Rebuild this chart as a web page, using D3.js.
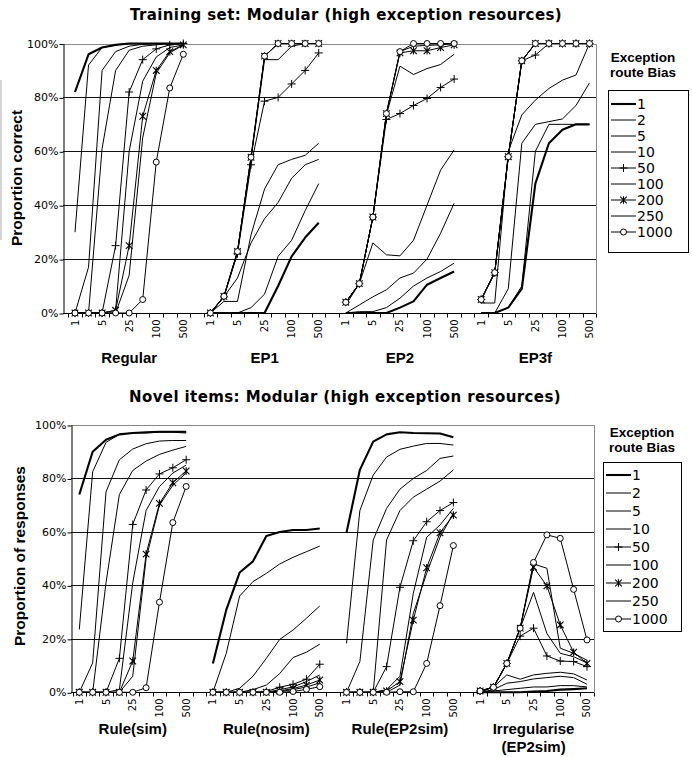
<!DOCTYPE html>
<html><head><meta charset="utf-8">
<script src="https://cdn.jsdelivr.net/npm/d3@7"></script>
<style>body{margin:0;background:#fff;} svg{display:block;}</style>
</head><body>
<svg id="c" width="692" height="757"></svg>
<script>
// ---------------- DATA ----------------
const xLabels = ["1","2","5","10","25","50","100","250","500"];
const xShown = ["1","5","25","100","500"];
const biasLevels = ["1","2","5","10","50","100","200","250","1000"];
const yTicks = [0,20,40,60,80,100];
const trainGroups = ["Regular","EP1","EP2","EP3f"];
const novelGroups = ["Rule(sim)","Rule(nosim)","Rule(EP2sim)","Irregularise\n(EP2sim)"];

// rows follow biasLevels, columns follow xLabels (values in %)
const trainRegular = [
  [82,96,98.5,99.5,100,100,100,100,100],
  [30,92,98.5,99.5,100,100,100,100,100],
  [0,17,90,97,99,99.7,100,100,100],
  [0,0,61,90,97.5,99,99.5,100,100],
  [0,0,0,25,82,94,98,99.5,100],
  [0,0,0,1,60,86,95,98.5,99.5],
  [0,0,0,1,25,73,90,97,99.5],
  [0,0,0,0,14,65,89,96.5,99.5],
  [0,0,0,0,0,5,56,83.5,96]
];
const trainEP1 = [
  [0,0,0,0,0,10,21,28,33.5],
  [0,0,0,2,7,21,27,38,48],
  [0,6,13,26,35,41,50,55,57],
  [0,4.3,4.3,29,46,55,57,58.5,63],
  [0,6,22,55,78.6,80,85,90,96.5],
  [0,6,22.5,57,94,94,99,100,100],
  [0,6.2,22.8,57.8,95.3,100,100,100,100],
  [0,6.2,22.8,57.8,95.3,100,100,100,100],
  [0,6.2,22.8,57.8,95.3,100,100,100,100]
];
const trainEP2 = [
  [0,0,0,0,2,4.3,10.5,13,15.4],
  [0,0.5,0.5,2,5.5,10,13,15.4,18.5],
  [0,3,6,8.6,13,14.8,20,29.6,40.7],
  [3,10.9,26,21.6,21.2,27,40,53,60.5],
  [4,10.9,35.6,71.8,74,77,79.6,83.7,86.8],
  [4,10.9,35.6,73.5,91.6,88.5,90.7,92.2,96],
  [4,10.9,35.6,74,96.5,97.3,97.3,98.5,99.5],
  [4,10.9,35.6,74,97,99,99.3,99.5,100],
  [4,10.9,35.6,74,97,100,100,100,100]
];
const trainEP3f = [
  [0,0,2,9,48,63,68,70,70],
  [0,0,2,10,60,70,70,70,70],
  [0,0,9,63,70,71,72,77,85.4],
  [3.7,3.7,60,73.5,79,83.3,86.4,88.3,100],
  [5,15,58,93.6,95.7,100,100,100,100],
  [5,15,58,93.6,100,100,100,100,100],
  [5,15,58,93.6,100,100,100,100,100],
  [5,15,58,93.6,100,100,100,100,100],
  [5,15,58,93.6,100,100,100,100,100]
];
const novelRuleSim = [
  [74,90,94.5,96.5,97,97.3,97.5,97.5,97.5],
  [23.5,82.5,93.5,96.5,97,97,97.3,97.3,97],
  [0,11,75,87,91,93,94,94.2,94.2],
  [0,0,41,74,83,86.5,89,90.6,92],
  [0,0,0,12.7,62.8,75.7,81.7,84,87],
  [0,0,0,1,41,68,77,82,85],
  [0,0,0,0,11.7,51.7,70.7,78.4,82.8],
  [0,0,0,0,6,50,70,77.5,82],
  [0,0,0,0,0,1.7,33.7,63.5,77]
];
const novelRuleNosim = [
  [10.8,30.8,44.8,49,58.5,60,60.7,60.7,61.3],
  [0,14.6,36,41.4,44.5,48,50.5,52.6,54.7],
  [0,0,1.5,6,12.7,19.8,23.3,27.7,32.3],
  [0,0,0,1,2.7,7,13,15,18],
  [0,0,0,0,0.3,1.9,3,4.9,10.5],
  [0,0,0,0,0,1,2,4,6.5],
  [0,0,0,0,0,0.5,1.4,2.7,4.6],
  [0,0,0,0,0,0.3,1,2,3.5],
  [0,0,0,0,0,0,0.3,1.1,2.1]
];
const novelRuleEP2sim = [
  [59.7,83.2,93.8,96.5,97.3,97,96.9,96.8,95.4],
  [18.3,68,81.3,88,90.9,92.1,93.1,93.1,92.5],
  [0,11.5,57,68.8,76,80,83,87.5,88.4],
  [0,0,0,57,68,73,76,79,83.2],
  [0,0,0,9.6,39.3,56.7,63.8,68,71],
  [0,0,0,1,6,37,58,62.6,68.8],
  [0,0,0,0.5,4,27,46.6,59.7,66.3],
  [0,0,0,0,2.7,29.5,44.5,58,67],
  [0,0,0,0,0.2,0.2,10.8,32.4,54.9]
];
const novelIrregularise = [
  [0,0,0,0,0.3,0.5,1,1.2,1.5],
  [0,0.5,1,1.5,2,2,2.5,2.5,2],
  [0,1,3.4,4,5,5.5,6,5.5,3],
  [0,2,6.5,4.9,6.5,7.1,7.5,6.9,4.6],
  [0.5,1.9,10.8,21,24,13.6,11.7,11.5,9.6],
  [0.5,1.9,10.8,24,37.4,22,14.6,13.3,11],
  [0.5,1.9,10.8,24,46.8,39.8,25.2,15,10.8],
  [0.5,1.9,10.8,24,48,46.4,16.5,14.6,12],
  [0.5,1.9,10.8,24,48.6,58.9,57.6,38.5,19.6]
];

// ---------------- STYLE ----------------
const markerOf = {"50":"plus","200":"star","1000":"circle"};
const widthOf = b => b==="1" ? 2.1 : 1;
const TICK_FONT = "'DejaVu Sans', Verdana, sans-serif";
const BOLD_FONT = "'Liberation Sans', Arial, sans-serif";

const svg = d3.select("#c");
// faint artefact line at left edge
svg.append("line").attr("x1",1).attr("x2",1).attr("y1",80).attr("y2",240).attr("stroke","#aaa");

function drawMarker(g, type, cx, cy){
  if(type==="plus"){
    g.append("path").attr("d",`M${cx-4},${cy}H${cx+4}M${cx},${cy-4}V${cy+4}`).attr("stroke","#000").attr("stroke-width",1).attr("fill","none");
  } else if(type==="star"){
    g.append("path").attr("d",`M${cx-3.3},${cy-3.3}L${cx+3.3},${cy+3.3}M${cx-3.3},${cy+3.3}L${cx+3.3},${cy-3.3}M${cx},${cy-3.8}V${cy+3.8}`).attr("stroke","#000").attr("stroke-width",1.1).attr("fill","none");
  } else if(type==="circle"){
    g.append("circle").attr("cx",cx).attr("cy",cy).attr("r",3).attr("fill","#fff").attr("stroke","#000").attr("stroke-width",1);
  }
}

function panel(cfg){
  const g = svg.append("g");
  const slots = d3.range(39);
  const x = d3.scaleBand().domain(slots).range([cfg.first - cfg.step/2, cfg.first + 38*cfg.step + cfg.step/2]).padding(0);
  const cx = s => x(s) + x.bandwidth()/2;
  const y = d3.scaleLinear().domain([0,100]).range([cfg.bottom, cfg.top]);

  // gridlines
  g.selectAll(".grid").data(yTicks.filter(t=>t>0 && t<100)).join("line")
    .attr("x1",cfg.left).attr("x2",cfg.right).attr("y1",d=>Math.round(y(d))+0.5).attr("y2",d=>Math.round(y(d))+0.5)
    .attr("stroke","#111").attr("stroke-width",1);
  // plot border top/right
  g.append("path").attr("d",`M${cfg.left},${Math.round(y(100))+0.5}H${Math.round(cfg.right)+0.5}V${Math.round(y(0))}`)
    .attr("fill","none").attr("stroke","#888");

  // y axis
  const ya = g.append("g").attr("transform",`translate(${Math.round(cfg.left)+0.5},0)`)
    .call(d3.axisLeft(y).tickValues(yTicks).tickFormat(d=>d+"%").tickSize(4).tickSizeOuter(0));
  ya.selectAll("path,line").attr("stroke","#000");
  ya.selectAll("text").attr("font-family",TICK_FONT).attr("font-size",11).attr("fill","#000").attr("x",-5);
  ya.selectAll(".tick line").attr("y1",0.5).attr("y2",0.5);

  // x axis line + ticks at band boundaries
  const yb = Math.round(y(0))+0.5;
  g.append("line").attr("x1",cfg.left).attr("x2",cfg.right).attr("y1",yb).attr("y2",yb).attr("stroke","#000");
  const bounds = slots.map(s=>x(s)).concat([x.range()[1]]);
  g.selectAll(".xt").data(bounds).join("line")
    .attr("x1",d=>Math.round(d)+0.5).attr("x2",d=>Math.round(d)+0.5).attr("y1",yb).attr("y2",yb+4).attr("stroke","#000");

  // tick labels via axis
  const labelSlots = [];
  cfg.groups.forEach((grp,gi)=>xLabels.forEach((lab,j)=>{ if(xShown.includes(lab)) labelSlots.push({s:gi*10+j,lab}); }));
  const xa = g.append("g").attr("transform",`translate(0,${yb})`)
    .call(d3.axisBottom(x).tickValues(labelSlots.map(d=>d.s)).tickFormat(s=>labelSlots.find(d=>d.s===s).lab).tickSize(0));
  xa.select(".domain").remove();
  xa.selectAll("text").attr("font-family",TICK_FONT).attr("font-size",10).attr("fill","#000")
    .attr("transform","rotate(-90)").attr("text-anchor","end").attr("x",-6).attr("y",0).attr("dy","0.35em");

  // group labels
  cfg.groups.forEach((grp,gi)=>{
    const lines = grp.split("\n");
    const t = g.append("text").attr("x",cx(gi*10+4)).attr("y",cfg.groupY).attr("text-anchor","middle")
      .attr("font-family",BOLD_FONT).attr("font-weight","bold").attr("font-size",15).attr("fill","#000");
    lines.forEach((ln,li)=>t.append("tspan").attr("x",cx(gi*10+4)).attr("dy",li===0?0:17.5).text(ln));
  });

  // series
  const line = d3.line();
  biasLevels.forEach((b,bi)=>{
    cfg.data.forEach((grpData,gi)=>{
      const vals = grpData[bi];
      const pts = vals.map((v,j)=>[cx(gi*10+j), y(v)]);
      g.append("path").attr("d",line(pts)).attr("fill","none").attr("stroke","#000")
        .attr("stroke-width",widthOf(b)).attr("stroke-linejoin","round");
      if(markerOf[b]) pts.forEach(p=>drawMarker(g, markerOf[b], p[0], p[1]));
    });
  });

  // titles
  svg.append("text").attr("x",cfg.titleX).attr("y",cfg.titleY).attr("text-anchor","middle")
    .attr("font-family",TICK_FONT).attr("font-weight","bold").attr("font-size",15).attr("letter-spacing",0.4)
    .attr("fill","#000").text(cfg.title);
  svg.append("text").attr("transform",`translate(${cfg.yTitleX},${cfg.yTitleY}) rotate(-90)`).attr("text-anchor","middle")
    .attr("font-family",BOLD_FONT).attr("font-weight","bold").attr("font-size",15.5).attr("fill","#000").text(cfg.yTitle);

  // legend
  const L = cfg.legend;
  const lt = svg.append("text").attr("x",L.cx).attr("y",L.titleY).attr("text-anchor","middle")
    .attr("font-family",BOLD_FONT).attr("font-weight","bold").attr("font-size",13.5).attr("fill","#000");
  lt.append("tspan").attr("x",L.cx).text("Exception");
  lt.append("tspan").attr("x",L.cx).attr("dy",15).text("route Bias");
  svg.append("rect").attr("x",L.x+0.5).attr("y",L.y+0.5).attr("width",L.w).attr("height",L.h).attr("fill","#fff").attr("stroke","#000");
  biasLevels.forEach((b,i)=>{
    const ry = L.y + L.row0 + i*L.step;
    svg.append("line").attr("x1",L.x+3).attr("x2",L.x+28).attr("y1",ry).attr("y2",ry).attr("stroke","#000").attr("stroke-width",widthOf(b));
    if(markerOf[b]) drawMarker(svg, markerOf[b], L.x+15.5, ry);
    svg.append("text").attr("x",L.x+29).attr("y",ry).attr("dy","0.36em").attr("font-family",TICK_FONT)
      .attr("font-size",14).attr("fill","#000").text(b);
  });
}

panel({
  top:43.5, bottom:313, left:63, right:596, first:75, step:13.54,
  groups:trainGroups, data:[trainRegular,trainEP1,trainEP2,trainEP3f], groupY:363,
  title:"Training set: Modular (high exception resources)", titleX:346, titleY:20,
  yTitle:"Proportion correct", yTitleX:22, yTitleY:178,
  legend:{cx:643, titleY:62, x:608, y:90, w:80, h:162, row0:14, step:16}
});
panel({
  top:425, bottom:692.3, left:71, right:594, first:79.3, step:13.36,
  groups:novelGroups, data:[novelRuleSim,novelRuleNosim,novelRuleEP2sim,novelIrregularise], groupY:734,
  title:"Novel items: Modular (high exception resources)", titleX:345, titleY:402,
  yTitle:"Proportion of responses", yTitleX:25, yTitleY:556,
  legend:{cx:642, titleY:437, x:603, y:462, w:78, h:169, row0:13, step:18}
});
</script>
</body></html>
